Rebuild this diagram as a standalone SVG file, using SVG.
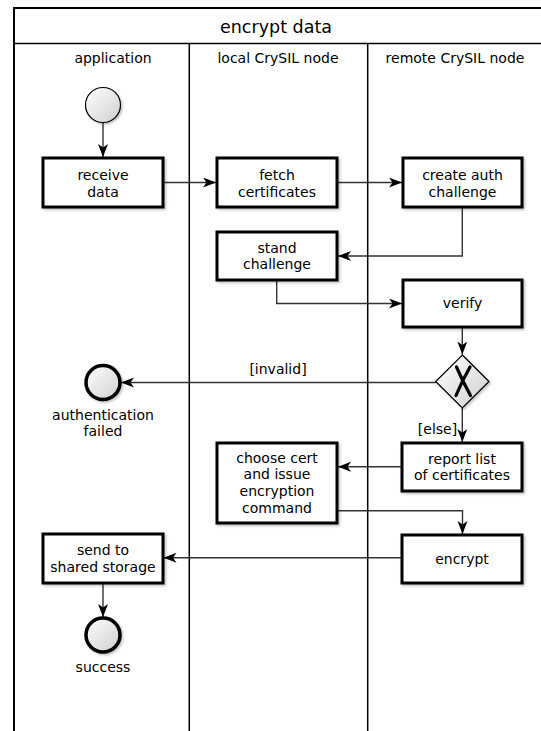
<svg xmlns="http://www.w3.org/2000/svg" width="541" height="731" viewBox="0 0 541 731">
<style>
text{font-family:"DejaVu Sans","Liberation Sans",sans-serif;fill:#000;text-anchor:middle}
.t{font-size:14px}
.title{font-size:17.5px}
.box{fill:#fff;stroke:#000;stroke-width:3;filter:url(#sh)}
.lane{stroke:#000;stroke-width:1.5;fill:none}
.con{stroke:#333;stroke-width:1.4;fill:none;marker-end:url(#ah)}
.ev{fill:url(#g);stroke:#000}
</style>
<defs>
<linearGradient id="g" x1="0" y1="0" x2="1" y2="1">
<stop offset="0" stop-color="#ffffff"/>
<stop offset="1" stop-color="#cfcfcf"/>
</linearGradient>
<filter id="sh" x="-20%" y="-20%" width="150%" height="150%">
<feDropShadow dx="1.5" dy="1.5" stdDeviation="1.2" flood-color="#000" flood-opacity="0.25"/>
</filter>
<marker id="ah" markerUnits="userSpaceOnUse" markerWidth="14" markerHeight="12" refX="13" refY="5" orient="auto">
<path d="M0,0 L13,5 L0,10 L3.5,5 z" fill="#000"/>
</marker>
</defs>
<g id="frame">
<path d="M541,8 H14 V731" fill="none" stroke="#000" stroke-width="2"/>
<line x1="14" y1="43.5" x2="541" y2="43.5" stroke="#000" stroke-width="1.5"/>
<text class="title" x="276" y="33">encrypt data</text>
<line class="lane" x1="189.3" y1="43.5" x2="189.3" y2="731"/>
<line class="lane" x1="367.7" y1="43.5" x2="367.7" y2="731"/>
<text class="t" x="113" y="63">application</text>
<text class="t" x="278" y="63">local CrySIL node</text>
<text class="t" x="455" y="63">remote CrySIL node</text>
</g>
<g id="connectors">
<line class="con" x1="103" y1="122.5" x2="103" y2="157"/>
<line class="con" x1="163" y1="182.5" x2="216" y2="182.5"/>
<line class="con" x1="337" y1="182.5" x2="402" y2="182.5"/>
<polyline class="con" points="462.3,207 462.3,256 338,256"/>
<polyline class="con" points="276.7,280 276.7,303.5 402,303.5"/>
<line class="con" x1="462.3" y1="327" x2="462.3" y2="354.5"/>
<line class="con" x1="436" y1="382.5" x2="121" y2="382.5"/>
<text class="t" x="278" y="374">[invalid]</text>
<line class="con" x1="462.3" y1="408" x2="462.3" y2="442"/>
<text class="t" x="437.5" y="434">[else]</text>
<line class="con" x1="402" y1="466.7" x2="338" y2="466.7"/>
<polyline class="con" points="337,510.7 462.5,510.7 462.5,534"/>
<line class="con" x1="402" y1="557.7" x2="163.5" y2="557.7"/>
<line class="con" x1="103" y1="583" x2="103" y2="617"/>
</g>
<g id="start">
<circle class="ev" cx="103" cy="105" r="17.5" stroke-width="1.2" filter="url(#sh)"/>
</g>
<g id="receive-data">
<rect class="box" x="43" y="158" width="120" height="49"/>
<text class="t" x="103" y="180">receive</text>
<text class="t" x="103" y="196.5">data</text>
</g>
<g id="fetch-certificates">
<rect class="box" x="217" y="158" width="120" height="49"/>
<text class="t" x="277" y="180">fetch</text>
<text class="t" x="277" y="196.5">certificates</text>
</g>
<g id="create-auth-challenge">
<rect class="box" x="403" y="158" width="119" height="49"/>
<text class="t" x="462.5" y="180">create auth</text>
<text class="t" x="462.5" y="196.5">challenge</text>
</g>
<g id="stand-challenge">
<rect class="box" x="217" y="232" width="120" height="48"/>
<text class="t" x="277" y="252.5">stand</text>
<text class="t" x="277" y="269">challenge</text>
</g>
<g id="verify">
<rect class="box" x="403" y="280" width="119" height="47"/>
<text class="t" x="462.5" y="308">verify</text>
</g>
<g id="gateway">
<path d="M462.3,355 L489,381.5 L462.3,408 L435.7,381.5 Z" fill="url(#g)" stroke="#000" stroke-width="1.2" filter="url(#sh)"/>
<path d="M456.5,367 Q462.5,381 470.5,395.5 M470,367 Q462,381 456,395.5" fill="none" stroke="#000" stroke-width="3.2" stroke-linecap="round"/>
</g>
<g id="authentication-failed">
<circle class="ev" cx="103" cy="382.5" r="17" stroke-width="3.5" filter="url(#sh)"/>
<text class="t" x="103" y="420">authentication</text>
<text class="t" x="103" y="436">failed</text>
</g>
<g id="report-list">
<rect class="box" x="402" y="443" width="120" height="48"/>
<text class="t" x="462" y="463.5">report list</text>
<text class="t" x="462" y="480">of certificates</text>
</g>
<g id="choose-cert">
<rect class="box" x="217" y="443" width="120" height="80"/>
<text class="t" x="277" y="463">choose cert</text>
<text class="t" x="277" y="479">and issue</text>
<text class="t" x="277" y="496">encryption</text>
<text class="t" x="277" y="512.5">command</text>
</g>
<g id="encrypt">
<rect class="box" x="402" y="535" width="120" height="48"/>
<text class="t" x="462" y="563.5">encrypt</text>
</g>
<g id="send-to-shared-storage">
<rect class="box" x="43" y="534" width="120" height="49"/>
<text class="t" x="103" y="555">send to</text>
<text class="t" x="103" y="571.5">shared storage</text>
</g>
<g id="success">
<circle class="ev" cx="103" cy="635" r="17" stroke-width="3.5" filter="url(#sh)"/>
<text class="t" x="103" y="672">success</text>
</g>
</svg>
